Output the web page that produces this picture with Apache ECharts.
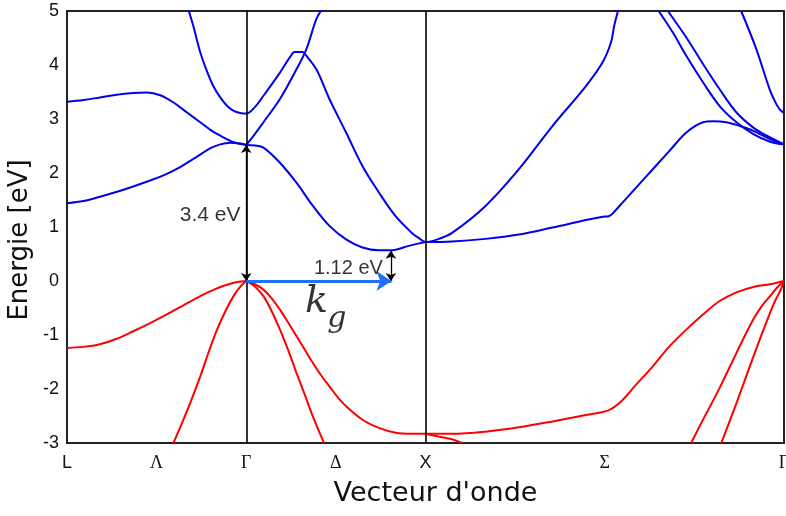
<!DOCTYPE html>
<html><head><meta charset="utf-8">
<script src="https://cdn.jsdelivr.net/npm/echarts@6/dist/echarts.min.js"></script>
<style>html,body{margin:0;padding:0;background:#fff}#c{width:786px;height:516px}</style>
</head><body><div id="c"></div>
<script>
// k-path positions (L=0, Γ=1, X=2, Γ=4)
const kTickValues = [0, 0.5, 1, 1.5, 2, 3, 4];
const kTickLabels = ['L', 'Λ', 'Γ', 'Δ', 'X', 'Σ', 'Γ'];
const symmetryLines = [1, 2];

// Conduction bands (blue)
const cb1 = [[0,1.44],[0.092,1.48],[0.184,1.56],[0.324,1.70],[0.464,1.86],[0.560,1.99],[0.631,2.11],[0.690,2.23],[0.743,2.34],[0.80,2.46],[0.855,2.53],[0.91,2.56],[0.96,2.55],[1,2.52]];
const cb2 = [[0,3.32],[0.092,3.35],[0.184,3.40],[0.277,3.45],[0.370,3.48],[0.447,3.49],[0.520,3.44],[0.592,3.31],[0.670,3.12],[0.743,2.94],[0.800,2.80],[0.855,2.69],[0.93,2.57],[1,2.52]];
const cb3 = [[0.676,5.04],[0.704,4.73],[0.743,4.24],[0.780,3.89],[0.816,3.61],[0.855,3.40],[0.894,3.24],[0.930,3.15],[0.966,3.11],[1,3.10],
             [1.048,3.22],[1.096,3.43],[1.188,3.86],[1.243,4.14],[1.271,4.24],[1.315,4.24],[1.331,4.19],
             [1.391,3.92],[1.464,3.37],[1.557,2.75],[1.648,2.13],[1.740,1.64],[1.833,1.20],[1.924,0.89],[1.965,0.79],[2,0.72],
             [2.074,0.78],[2.148,0.89],[2.335,1.39],[2.521,2.07],[2.708,2.87],[2.895,3.61],[2.988,4.05],[3.035,4.42],[3.053,4.73],[3.077,5.04]];
const cb4 = [[1,2.52],[1.048,2.72],[1.096,2.94],[1.188,3.37],[1.280,3.92],[1.335,4.29],[1.391,4.85],[1.424,5.04]];
const cb5 = [[1,2.52],[1.048,2.51],[1.096,2.47],[1.188,2.19],[1.280,1.82],[1.372,1.39],[1.464,1.02],[1.557,0.77],[1.648,0.62],
             [1.740,0.57],[1.814,0.57],[1.906,0.65],[2,0.72]];
const cb6 = [[2,0.72],[2.148,0.73],[2.335,0.78],[2.521,0.86],[2.708,0.99],[2.895,1.13],[2.988,1.19],[3.022,1.20],
             [3.082,1.39],[3.175,1.73],[3.268,2.07],[3.361,2.41],[3.455,2.75],[3.548,2.94],[3.604,2.96],[3.679,2.94],
             [3.754,2.87],[3.829,2.78],[3.922,2.63],[4,2.53]];
const cb7 = [[3.301,5.0],[3.380,4.60],[3.455,4.17],[3.548,3.68],[3.641,3.24],[3.735,2.94],[3.829,2.72],[3.922,2.58],[4,2.53]];
const cb8 = [[3.352,5.0],[3.455,4.51],[3.548,4.02],[3.641,3.55],[3.735,3.12],[3.829,2.84],[3.904,2.69],[4,2.53]];
const cb9 = [[3.761,5.0],[3.845,4.30],[3.920,3.55],[3.958,3.27],[3.976,3.18],[3.992,3.13],[4,3.11]];
const conductionBands = [cb1, cb2, cb3, cb4, cb5, cb6, cb7, cb8, cb9];

// Valence bands (red)
const vb1 = [[0,-1.24],[0.092,-1.22],[0.184,-1.17],[0.277,-1.07],[0.370,-0.93],[0.464,-0.78],[0.557,-0.62],[0.650,-0.45],[0.743,-0.28],[0.820,-0.16],[0.892,-0.07],[0.950,-0.02],[1,0]];
const vb2 = [[0.594,-3.0],[0.668,-2.42],[0.743,-1.77],[0.790,-1.32],[0.837,-0.90],[0.885,-0.55],[0.929,-0.28],[0.966,-0.11],[1,0]];
const vb3 = [[1,0],[1.048,-0.10],[1.096,-0.28],[1.142,-0.56],[1.188,-0.90],[1.234,-1.28],[1.280,-1.70],[1.326,-2.10],[1.372,-2.51],[1.434,-3.0]];
const vb4 = [[1,0],[1.048,-0.06],[1.096,-0.16],[1.142,-0.32],[1.188,-0.53],[1.234,-0.77],[1.280,-1.02],[1.326,-1.27],[1.372,-1.52],[1.418,-1.75],[1.464,-1.95],[1.510,-2.15],[1.557,-2.32],[1.648,-2.57],
             [1.740,-2.72],[1.833,-2.81],[1.924,-2.83],[2,-2.83],
             [2.148,-2.83],[2.335,-2.79],[2.521,-2.71],[2.708,-2.60],[2.895,-2.48],[3.016,-2.40],
             [3.082,-2.26],[3.175,-1.92],[3.268,-1.58],[3.361,-1.21],[3.455,-0.90],[3.548,-0.62],[3.641,-0.37],
             [3.735,-0.21],[3.829,-0.11],[3.922,-0.06],[4,0]];
const vb5 = [[2,-2.83],[2.073,-2.88],[2.148,-2.93],[2.204,-3.0]];
const vb6 = [[3.482,-3.0],[3.548,-2.57],[3.641,-1.98],[3.735,-1.33],[3.829,-0.71],[3.875,-0.47],[3.922,-0.28],[3.962,-0.12],[4,0]];
const vb7 = [[3.650,-3.0],[3.735,-2.26],[3.829,-1.40],[3.922,-0.59],[3.950,-0.37],[3.978,-0.19],[4,0]];
const valenceBands = [vb1, vb2, vb3, vb4, vb5, vb6, vb7];

// Annotations
const directGapArrow = [[1, 0], [1, 2.52]];
const indirectGapArrow = [[1.807, 0], [1.807, 0.56]];
const kgArrow = [[1, 0], [1.81, 0]];
const directGapText = { pos: [0.968, 1.21], text: '3.4 eV' };
const indirectGapText = { pos: [1.762, 0.24], text: '1.12 eV' };
const kgMain = { pos: [1.392, -0.40], text: 'k' };
const kgSub = { pos: [1.505, -0.70], text: 'g' };

const chart = echarts.init(document.getElementById('c'), null, { renderer: 'canvas' });

function bandSeries(data, color) {
  return { type: 'line', data: data, showSymbol: false, smooth: 0.35, clip: true, silent: true,
           lineStyle: { color: color, width: 2 }, itemStyle: { color: color }, z: 3 };
}
function arrowSeries(seg, color, width, symbols, size, z) {
  return { type: 'line', data: [], silent: true, z: z,
    markLine: { silent: true, animation: false, symbol: symbols, symbolSize: size,
      lineStyle: { color: color, width: width, type: 'solid' }, label: { show: false },
      data: [[{ coord: seg[0] }, { coord: seg[1] }]] } };
}
function textSeries(item, style, align, vAlign) {
  return { type: 'scatter', symbolSize: 0, silent: true, z: 10,
    data: [item.pos],
    label: Object.assign({ show: true, position: [0, 0], align: align, verticalAlign: vAlign,
      textBorderWidth: 0, formatter: () => item.text }, style) };
}

const series = [];
conductionBands.forEach(b => series.push(bandSeries(b, '#0000ee')));
valenceBands.forEach(b => series.push(bandSeries(b, '#ff0000')));
series[0].markLine = { silent: true, animation: false, symbol: ['none', 'none'],
  lineStyle: { color: '#000', width: 1.6, type: 'solid' }, label: { show: false },
  data: symmetryLines.map(v => ({ xAxis: v })) };
series.push(arrowSeries(directGapArrow, '#000', 1.3, ['arrow', 'arrow'], 8, 6));
series.push(arrowSeries(indirectGapArrow, '#000', 1.3, ['arrow', 'arrow'], 8, 6));
series.push(arrowSeries(kgArrow, '#1f6fff', 3, ['none', 'arrow'], 15, 7));
series.push(textSeries(directGapText, { fontFamily: 'Liberation Sans', fontSize: 21, color: '#000' }, 'right', 'middle'));
series.push(textSeries(indirectGapText, { fontFamily: 'Liberation Sans', fontSize: 20, color: '#000' }, 'right', 'middle'));
series.push(textSeries(kgMain, { fontFamily: 'DejaVu Serif', fontStyle: 'italic', fontSize: 38, color: '#000' }, 'center', 'middle'));
series.push(textSeries(kgSub, { fontFamily: 'DejaVu Serif', fontStyle: 'italic', fontSize: 30, color: '#000' }, 'center', 'middle'));

chart.setOption({
  animation: false,
  backgroundColor: '#fff',
  grid: { left: 67, right: 2, top: 11, bottom: 73, outerBoundsMode: 'none', containLabel: false,
          show: true, borderColor: '#222', borderWidth: 2, backgroundColor: 'transparent' },
  xAxis: {
    type: 'value', min: 0, max: 4,
    name: "Vecteur d'onde", nameLocation: 'middle', nameGap: 37, nameMoveOverlap: false,
    nameTextStyle: { fontFamily: 'DejaVu Sans', fontSize: 27, color: '#111', padding: [0, 0, 0, 20] },
    axisLine: { show: false }, axisTick: { show: false }, splitLine: { show: false },
    axisLabel: {
      customValues: kTickValues, margin: 11, fontSize: 18, color: '#111',
      formatter: function (v) {
        const i = kTickValues.findIndex(t => Math.abs(t - v) < 1e-6);
        const s = i >= 0 ? kTickLabels[i] : '';
        return (s === 'L' || s === 'X') ? '{s|' + s + '}' : '{g|' + s + '}';
      },
      rich: {
        s: { fontFamily: 'Liberation Sans', fontSize: 18, color: '#111' },
        g: { fontFamily: 'Liberation Serif', fontSize: 18, color: '#111' }
      }
    }
  },
  yAxis: {
    type: 'value', min: -3, max: 5, interval: 1,
    name: 'Energie [eV]', nameLocation: 'middle', nameGap: 34, nameMoveOverlap: false,
    nameTextStyle: { fontFamily: 'DejaVu Sans', fontSize: 26, color: '#111', padding: [0, 26, 0, 0] },
    axisLine: { show: false }, axisTick: { show: false }, splitLine: { show: false },
    axisLabel: { fontFamily: 'Liberation Sans', fontSize: 18, color: '#111', margin: 8 }
  },
  series: series
});
</script></body></html>
